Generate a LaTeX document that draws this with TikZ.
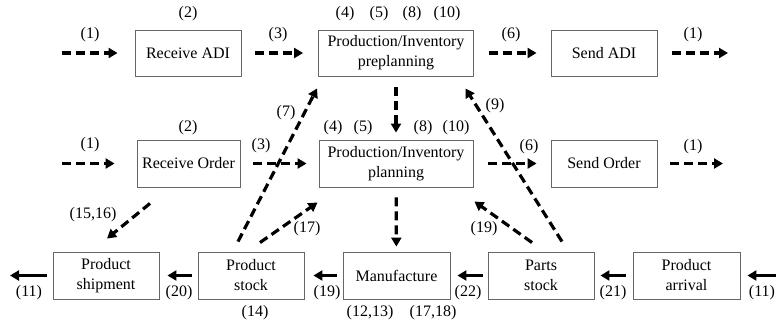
\documentclass[tikz,border=0pt]{standalone}
\usepackage{fontspec}
\setmainfont{Liberation Serif}
\usetikzlibrary{arrows.meta,calc}
\begin{document}
\begin{tikzpicture}[x=1pt,y=-1pt,
 box/.style={draw=black!60,line width=0.9pt,minimum width=106pt,minimum height=46pt,align=center,inner sep=0pt,font=\fontsize{16}{20}\selectfont},
 lbl/.style={font=\fontsize{16}{19}\selectfont,inner sep=0pt},
 dar/.style={line width=3.2pt,dash pattern=on 9pt off 5pt,-{Triangle[length=9pt,width=10pt]}},
 sar/.style={line width=3.2pt,-{Triangle[length=9pt,width=10pt]}}]
\useasboundingbox (0,0) rectangle (776,325);
% row 1
\node[box] (radi) at (188,53) {Receive ADI};
\node[box,minimum width=155pt] (preplan) at (396,53) {Production/Inventory\\preplanning};
\node[box] (sadi) at (604,53) {Send ADI};
% row 2
\node[box,minimum width=103pt,minimum height=47pt] (rord) at (188.5,163.5) {Receive Order};
\node[box,minimum width=154pt,minimum height=47pt] (plan) at (396,163.5) {Production/Inventory\\planning};
\node[box,minimum height=47pt] (sord) at (604,163.5) {Send Order};
% row 3
\node[box,minimum height=47pt] (ship) at (106,275.5) {Product\\shipment};
\node[box,minimum height=47pt] (stock) at (251,275.5) {Product\\stock};
\node[box,minimum width=107pt,minimum height=47pt] (manu) at (396.5,275.5) {Manufacture};
\node[box,minimum height=47pt] (parts) at (541,275.5) {Parts\\stock};
\node[box,minimum width=107pt,minimum height=47pt] (arr) at (686.5,275.5) {Product\\arrival};
% free ends
\coordinate (in1) at (62,53);
\coordinate (out1) at (728,53);
\coordinate (in2) at (62,163.5);
\coordinate (out2) at (723,163.5);
\coordinate (outL) at (10,275.5);
\coordinate (inR) at (782,275.5);
% row 1 arrows
\draw[dar,shorten >=17pt] (in1) -- (radi);
\draw[dar,shorten <=14pt,shorten >=15pt] (radi) -- (preplan);
\draw[dar,shorten <=15pt,shorten >=14pt] (preplan) -- (sadi);
\draw[dar,shorten <=15pt] (sadi) -- (out1);
% row 2 arrows
\draw[dar,shorten >=22pt] (in2) -- (rord);
\draw[dar,shorten <=13pt,shorten >=12pt] (rord) -- (plan);
\draw[dar,shorten <=15pt,shorten >=14pt] (plan) -- (sord);
\draw[dar,shorten <=13pt] (sord) -- (out2);
% verticals
\draw[dar,shorten <=11pt,shorten >=7pt] (preplan) -- (plan);
\draw[dar,shorten <=10pt,shorten >=5pt] (plan) -- (manu);
% diagonals
\draw[dar] ($(stock.north)+(-13,-10)$) -- ($(preplan.south west)+(-1,12)$);
\draw[dar] ($(stock.north)+(9,-9)$) -- ($(plan.south west)+(-1,15)$);
\draw[dar] ($(rord.south)+(-38.5,16)$) -- ($(ship.north)+(1,-13)$);
\draw[dar] ($(parts.north)+(21,-10)$) -- ($(preplan.south east)+(-8.5,12)$);
\draw[dar] ($(parts.north)+(-9,-9)$) -- ($(plan.south east)+(1,14)$);
% row 3 solid arrows
\draw[sar,shorten <=6pt] (ship) -- (outL);
\draw[sar,shorten <=6pt,shorten >=8pt] (stock) -- (ship);
\draw[sar,shorten <=6pt,shorten >=9pt] (manu) -- (stock);
\draw[sar,shorten <=5pt,shorten >=7pt] (parts) -- (manu);
\draw[sar,shorten <=7pt,shorten >=6pt] (arr) -- (parts);
\draw[sar,shorten >=7pt] (inR) -- (arr);
% labels row 1
\node[lbl] (t1a) at (90,35) {(1)};
\node[lbl] (t2a) at (188,14) {(2)};
\node[lbl] (t3a) at (278,35) {(3)};
\node[lbl] (t4a) at (345,14) {(4)};
\node[lbl] (t5a) at (379,14) {(5)};
\node[lbl] (t8a) at (412,14) {(8)};
\node[lbl] (t10a) at (447,14) {(10)};
\node[lbl] (t6a) at (511,35) {(6)};
\node[lbl] (t1b) at (693,35) {(1)};
% labels row 2
\node[lbl] (t1c) at (90,145) {(1)};
\node[lbl] (t2b) at (188,128) {(2)};
\node[lbl] (t3b) at (261,146) {(3)};
\node[lbl] (t4b) at (333,128) {(4)};
\node[lbl] (t5b) at (363,128) {(5)};
\node[lbl] (t8b) at (423,128) {(8)};
\node[lbl] (t10b) at (456,128) {(10)};
\node[lbl] (t6b) at (529,147) {(6)};
\node[lbl] (t1d) at (693,147) {(1)};
% diagonal labels
\node[lbl] (t7) at (286,113) {(7)};
\node[lbl] (t9) at (495,106) {(9)};
\node[lbl] (t1516) at (93,215) {(15,16)};
\node[lbl] (t17) at (307,229) {(17)};
\node[lbl] (t19b) at (484,229) {(19)};
% row 3 labels
\node[lbl] (t11a) at (29,293) {(11)};
\node[lbl] (t20) at (179,293) {(20)};
\node[lbl] (t19) at (327,293) {(19)};
\node[lbl] (t22) at (468,293) {(22)};
\node[lbl] (t21) at (613,293) {(21)};
\node[lbl] (t11b) at (762,293) {(11)};
\node[lbl] (t14) at (255,313) {(14)};
\node[lbl] (t1213) at (370,313) {(12,13)};
\node[lbl] (t1718) at (433,313) {(17,18)};
\end{tikzpicture}
\end{document}
